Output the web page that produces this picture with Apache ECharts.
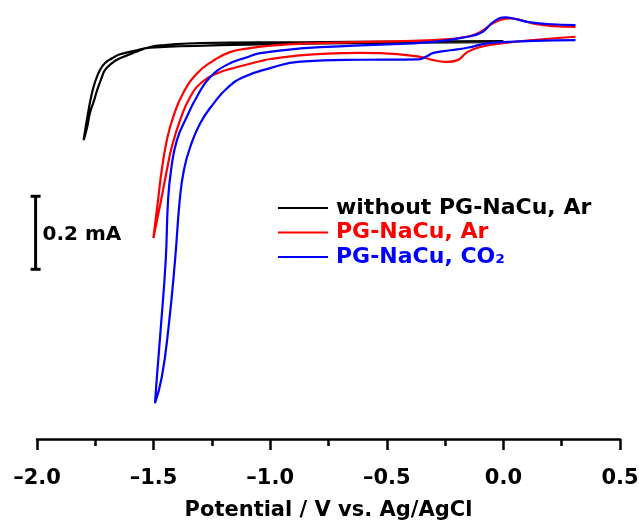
<!DOCTYPE html>
<html>
<head>
<meta charset="utf-8">
<script src="https://cdn.jsdelivr.net/npm/echarts@6.0.0/dist/echarts.min.js"></script>
<style>
  html, body { margin: 0; padding: 0; background: #fff; }
  #container { width: 639px; height: 522px; }
</style>
</head>
<body>
<div id="container"></div>
<script>
// potential in V vs. Ag/AgCl, current in mA (each loop in scan order)
var blackV = [0.00, -0.44, -0.87, -1.215, -1.386, -1.515, -1.571, -1.644, -1.678, -1.708, -1.730, -1.751, -1.768, -1.781, -1.790, -1.800,
  -1.785, -1.773, -1.755, -1.742, -1.725, -1.708, -1.678, -1.644, -1.601, -1.558, -1.515, -1.451, -1.300, -0.871, -0.442, 0.00];
var blackI = [-0.003, -0.004, -0.007, -0.011, -0.014, -0.018, -0.025, -0.036, -0.047, -0.060, -0.079, -0.112, -0.153, -0.197, -0.230, -0.271,
  -0.236, -0.197, -0.162, -0.134, -0.104, -0.079, -0.060, -0.047, -0.036, -0.025, -0.016, -0.011, -0.005, -0.003, -0.001, 0.000];

var redV = [0.309, 0.215, 0.129, 0.073, 0.030, -0.013, -0.047, -0.099, -0.155, -0.300, -0.584, -0.871, -1.000, -1.086, -1.172, -1.245,
  -1.313, -1.373, -1.416, -1.443, -1.465, -1.481, -1.501, -1.468, -1.443, -1.422, -1.386, -1.343, -1.292, -1.227, -1.142, -1.043,
  -1.000, -0.901, -0.755, -0.614, -0.528, -0.356, -0.300, -0.240, -0.197, -0.155, -0.099, 0.017, 0.129, 0.309];
var redI = [0.039, 0.041, 0.048, 0.058, 0.062, 0.058, 0.048, 0.025, 0.012, 0.003, -0.002, -0.007, -0.012, -0.019, -0.030, -0.054,
  -0.088, -0.142, -0.208, -0.271, -0.353, -0.436, -0.540, -0.436, -0.353, -0.290, -0.216, -0.153, -0.112, -0.088, -0.071, -0.055,
  -0.049, -0.041, -0.034, -0.032, -0.033, -0.043, -0.052, -0.057, -0.052, -0.030, -0.016, -0.004, 0.003, 0.012];

var blueV = [0.309, 0.189, 0.103, 0.043, 0.009, -0.043, -0.090, -0.155, -0.300, -0.584, -0.871, -1.043, -1.099, -1.180, -1.258, -1.315,
  -1.358, -1.400, -1.425, -1.438, -1.448, -1.469, -1.486, -1.494, -1.465, -1.436, -1.408, -1.388, -1.370, -1.343, -1.300, -1.243,
  -1.185, -1.116, -1.000, -0.871, -0.614, -0.365, -0.326, -0.300, -0.227, -0.155, -0.069, 0.017, 0.129, 0.309];
var blueI = [0.044, 0.047, 0.053, 0.062, 0.065, 0.053, 0.025, 0.012, -0.002, -0.011, -0.020, -0.033, -0.044, -0.063, -0.099, -0.153,
  -0.208, -0.271, -0.353, -0.436, -0.600, -0.784, -0.921, -0.992, -0.921, -0.784, -0.600, -0.436, -0.353, -0.290, -0.225, -0.171,
  -0.129, -0.099, -0.074, -0.056, -0.051, -0.050, -0.041, -0.032, -0.025, -0.018, -0.006, -0.002, 0.001, 0.003];

var seriesNames = ["without PG-NaCu, Ar", "PG-NaCu, Ar", "PG-NaCu, CO\u2082"];
var seriesColors = ["#000000", "#ff0000", "#0000ff"];

var FONT = "DejaVu Sans";

function pairs(xs, ys) {
  return xs.map(function (x, i) { return [x, ys[i]]; });
}

var curves = [pairs(blackV, blackI), pairs(redV, redI), pairs(blueV, blueI)];

var option = {
  animation: false,
  backgroundColor: "#fff",
  grid: { left: 37, right: 19, top: 1, bottom: 83, containLabel: false, outerBoundsMode: "none" },
  legend: {
    orient: "vertical",
    left: 278,
    top: 197,
    padding: 0,
    itemWidth: 50,
    itemHeight: 2,
    itemGap: 2.5,
    icon: "rect",
    textStyle: { fontFamily: FONT, fontWeight: "bold", fontSize: 22, lineHeight: 22, padding: [0, 0, 0, 3] },
    data: seriesNames.map(function (n, i) {
      return { name: n, textStyle: { color: seriesColors[i] } };
    })
  },
  xAxis: {
    type: "value",
    min: -2,
    max: 0.5,
    interval: 0.5,
    name: "Potential / V vs. Ag/AgCl",
    nameLocation: "middle",
    nameGap: 61,
    nameTextStyle: { fontFamily: FONT, fontWeight: "bold", fontSize: 21, color: "#000" },
    axisLine: { onZero: false, lineStyle: { color: "#000", width: 2.5 } },
    axisTick: { inside: false, length: 11, lineStyle: { color: "#000", width: 2.5 } },
    minorTick: { show: true, splitNumber: 2, length: 7, lineStyle: { color: "#000", width: 2.5 } },
    splitLine: { show: false },
    axisLabel: {
      margin: 29,
      fontFamily: FONT,
      fontWeight: "bold",
      fontSize: 21,
      color: "#000",
      formatter: function (v) {
        return (v < 0 ? "\u2013" : "") + Math.abs(v).toFixed(1);
      }
    }
  },
  yAxis: {
    type: "value",
    min: -1.09,
    max: 0.11,
    show: false,
    splitLine: { show: false }
  },
  series: curves.map(function (d, i) {
    return {
      name: seriesNames[i],
      type: "line",
      data: d,
      showSymbol: false,
      smooth: 0.5,
      color: seriesColors[i],
      lineStyle: { width: 2.2, color: seriesColors[i] }
    };
  })
};

var dom = document.getElementById("container");
var myChart = echarts.init(dom);
myChart.setOption(option);

// scale bar for the current axis: 0.2 mA
var barV = -2.006, barTop = -0.425, barLen = 0.2;
var p1 = myChart.convertToPixel({ gridIndex: 0 }, [barV, barTop]);
var p2 = myChart.convertToPixel({ gridIndex: 0 }, [barV, barTop - barLen]);
var barStyle = { stroke: "#000", lineWidth: 3 };
myChart.setOption({
  graphic: [
    { type: "line", shape: { x1: p1[0], y1: p1[1], x2: p2[0], y2: p2[1] }, style: barStyle },
    { type: "line", shape: { x1: p1[0] - 5, y1: p1[1], x2: p1[0] + 5, y2: p1[1] }, style: barStyle },
    { type: "line", shape: { x1: p2[0] - 5, y1: p2[1], x2: p2[0] + 5, y2: p2[1] }, style: barStyle },
    {
      type: "text",
      x: p1[0] + 7,
      y: (p1[1] + p2[1]) / 2 + 2,
      style: {
        text: "0.2 mA",
        fill: "#000",
        font: "bold 20px '" + FONT + "'",
        verticalAlign: "middle",
        align: "left"
      }
    }
  ]
});
</script>
</body>
</html>
